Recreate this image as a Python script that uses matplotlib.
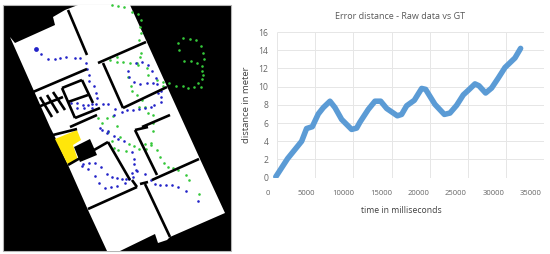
import matplotlib
matplotlib.use("Agg")
import matplotlib.pyplot as plt
from matplotlib.patches import Polygon, Rectangle

plt.rcParams['font.family'] = ['Open Sans', 'DejaVu Sans']

# curve
time_ms = [1000, 2575, 4440, 5100, 5860, 6660, 7330, 8215, 8880, 9770, 11100, 11770, 12210,
           13320, 14210, 14970, 15770, 17190, 17760, 18430, 19450, 20430, 20960, 22200, 23450,
           24200, 25090, 25980, 26640, 27530, 28060, 28950, 29750, 30640, 31530, 32860, 33610]
dist_m = [0.1, 2.1, 4.0, 5.4, 5.6, 7.0, 7.7, 8.4, 7.7, 6.4, 5.3, 5.45, 6.1,
          7.5, 8.4, 8.4, 7.6, 6.8, 6.95, 7.9, 8.5, 9.8, 9.7, 8.05, 6.95,
          7.1, 7.95, 9.1, 9.6, 10.3, 10.1, 9.3, 9.85, 10.95, 12.1, 13.15, 14.2]
x_ticks = [0, 5000, 10000, 15000, 20000, 25000, 30000, 35000]
y_ticks = [0, 2, 4, 6, 8, 10, 12, 14, 16]
# vertical gridlines sit off the tick labels in the original
x_grid = [1200, 6220, 11330, 16440, 21550, 26570, 31680, 36700]

# floor plan, in image pixels
white_area = [(10, 37), (15, 43), (55, 25), (53, 17), (65, 10), (78, 5), (130, 5), (200, 159),
              (225, 213), (170, 237), (167, 240), (158, 243), (155, 234), (120, 251), (107, 251),
              (88, 210), (68, 165), (55, 137), (50, 127)]
yellow_area = [(55, 139), (77, 130), (81, 140), (73, 145), (78, 160), (68, 165)]
block_area = [(74, 147), (90, 139), (97, 155), (80, 162)]
walls = [((68, 10), (87, 55)), ((33, 92), (87, 69)), ((98, 63), (146, 42)), ((103, 63), (123, 108)),
         ((123, 108), (167, 87)), ((62, 88), (82, 80)), ((82, 80), (93, 103)), ((62, 88), (75, 118)),
         ((75, 118), (100, 108)), ((68, 102), (88, 95)), ((40, 97), (52, 117)), ((47, 95), (58, 113)),
         ((53, 92), (65, 110)), ((38, 107), (63, 97)), ((70, 127), (97, 115)), ((142, 127), (170, 115)),
         ((135, 130), (157, 175)), ((135, 130), (148, 127)), ((152, 180), (199, 159)),
         ((88, 209), (137, 187)), ((140, 184), (148, 182)), ((145, 184), (170, 237)),
         ((108, 142), (130, 180)), ((68, 165), (108, 142)), ((132, 180), (137, 187)),
         ((53, 135), (77, 129))]

blue_x = [41, 48, 55, 60, 66, 75, 80, 86, 87, 89, 89, 94, 96, 97, 96, 103, 108, 115, 114, 122,
          127, 133, 139, 145, 151, 154, 161, 161, 158, 161, 157, 156, 152, 148, 142, 136, 128, 129,
          134, 140, 147, 153, 92, 88, 83, 77, 71, 77, 84, 92,
          100, 102, 108, 107, 114, 118, 124, 132, 134, 134, 136, 137, 132, 133, 129, 126, 122, 117,
          112, 107, 101, 95, 89, 83, 82, 88, 95, 99, 105, 111, 117, 125, 145, 151, 155, 160, 166,
          172, 178, 186, 198]
blue_y = [54, 59, 59, 58, 57, 58, 58, 63, 69, 75, 81, 86, 93, 98, 104, 104, 104, 109, 115, 112,
          110, 110, 109, 108, 107, 105, 102, 97, 93, 91, 84, 78, 71, 65, 62, 63, 71, 77,
          82, 84, 83, 83, 104, 105, 105, 103, 103, 108, 108, 108,
          128, 130, 131, 133, 136, 139, 141, 152, 159, 164, 170, 171, 173, 177, 179, 179, 179, 178,
          177, 174, 167, 163, 163, 164, 166, 169, 176, 183, 188, 187, 186, 183, 174, 180, 184, 185, 185,
          185, 187, 191, 201]
blue_big_x = [36]
blue_big_y = [49]

green_x = [112, 118, 124, 132, 138, 141, 140, 141, 139, 141, 140, 137, 130, 123, 117, 117, 110,
           138, 147, 148, 157, 163, 163, 169, 176, 183, 188, 194, 201, 198, 202, 203, 202, 202,
           197, 191, 184, 179, 178, 183, 190, 196, 201, 203, 204, 128, 131, 132, 137, 142, 139,
           145, 148, 153, 153, 98, 102, 107, 113, 117,
           108, 120, 112, 114, 118, 126, 129, 134, 139, 146, 145, 151, 151, 153, 157, 160, 164, 168,
           173, 178, 186, 189, 199]
green_y = [5, 6, 7, 12, 14, 20, 27, 33, 40, 53, 57, 63, 63, 62, 57, 62, 60,
           65, 68, 75, 80, 82, 86, 83, 86, 86, 88, 87, 87, 83, 79, 75, 71, 66,
           63, 61, 61, 50, 43, 38, 39, 40, 46, 53, 59, 77, 86, 91, 95, 100, 107,
           107, 113, 115, 123, 118, 123, 118, 116, 126,
           132, 137, 141, 148, 150, 151, 144, 146, 149, 149, 144, 143, 145, 131, 150, 157, 163, 167,
           168, 170, 175, 180, 194]

fig = plt.figure(figsize=(5.5, 2.54), dpi=100)

# left panel drawn in pixel coordinates
ax_map = fig.add_axes([0, 0, 1, 1])
ax_map.set_xlim(0, 550)
ax_map.set_ylim(254, 0)
ax_map.axis("off")
frame = Rectangle((3, 5), 228, 246, facecolor="black", edgecolor="#b5b5b5", linewidth=0.8)
ax_map.add_patch(frame)
ax_map.add_patch(Polygon(white_area, closed=True, facecolor="white", edgecolor="none"))
ax_map.add_patch(Polygon(yellow_area, closed=True, facecolor="#ffe60a", edgecolor="none"))
ax_map.add_patch(Polygon(block_area, closed=True, facecolor="black", edgecolor="none"))
for a, b in walls:
    ax_map.plot([a[0], b[0]], [a[1], b[1]], color="black", lw=1.9, solid_capstyle="butt")
ax_map.scatter(green_x, green_y, s=3.5, color="#35c83a", linewidths=0)
ax_map.scatter(blue_x, blue_y, s=3.5, color="#2323c8", linewidths=0)
ax_map.scatter(blue_big_x, blue_big_y, s=12, color="#2323c8", linewidths=0)

# right panel
left, right = 268.3, 543.8
top, bottom = 32.0, 177.7
ax = fig.add_axes([left / 550, 1 - bottom / 254, (right - left) / 550, (bottom - top) / 254])
ax.set_xlim(0, 36700)
ax.set_ylim(0, 16)
ax.patch.set_alpha(0)
for s in ax.spines.values():
    s.set_visible(False)
ax.vlines(x_grid, 0, 16, color="#e6e6e6", lw=0.7, zorder=1)
ax.hlines(y_ticks, x_grid[0], x_grid[-1], color="#e6e6e6", lw=0.7, zorder=1)
ax.plot(time_ms, dist_m, color="#5b9bd5", lw=4.0, solid_capstyle="round", solid_joinstyle="round", zorder=3)
ax.set_xticks(x_ticks)
ax.set_yticks(y_ticks)
ax.tick_params(length=0, labelcolor="#666666")
ax.tick_params(axis="x", pad=9, labelsize=5.5)
ax.tick_params(axis="y", pad=0, labelsize=6.2)
ax.set_title("Error distance - Raw data vs GT", fontsize=6.5, color="#595959", pad=9.5, x=0.48)
ax.set_xlabel("time in milliseconds", fontsize=6.2, color="#404040", labelpad=6, x=0.482)
ax.set_ylabel("distance in meter", fontsize=6.8, color="#404040", labelpad=5)

fig.savefig("out.png", dpi=100)
